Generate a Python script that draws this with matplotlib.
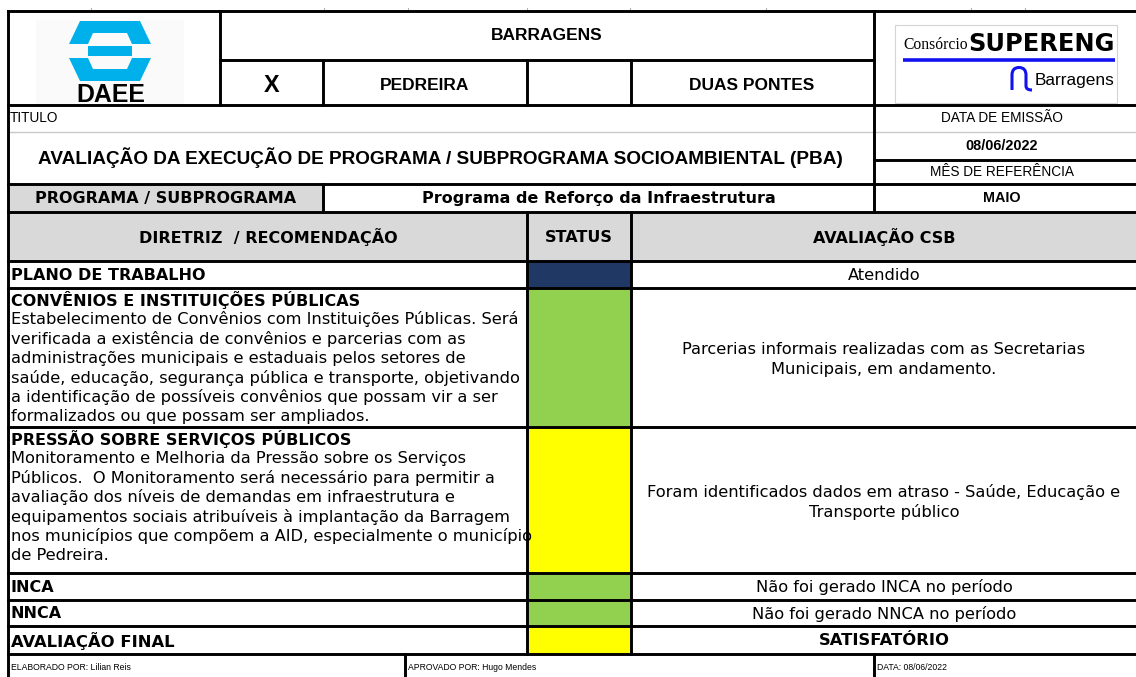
import matplotlib
matplotlib.use("Agg")
import matplotlib.pyplot as plt
from matplotlib.patches import Rectangle, Polygon, PathPatch
from matplotlib.path import Path

# ---------------- data ----------------
header_title = "BARRAGENS"
dam_options = ["X", "PEDREIRA", "", "DUAS PONTES"]
title_label = "TITULO"
doc_title = "AVALIAÇÃO DA EXECUÇÃO DE PROGRAMA / SUBPROGRAMA SOCIOAMBIENTAL (PBA)"
issue_label = "DATA DE EMISSÃO"
issue_date = "08/06/2022"
month_label = "MÊS DE REFERÊNCIA"
ref_month = "MAIO"
program_label = "PROGRAMA / SUBPROGRAMA"
program_name = "Programa de Reforço da Infraestrutura"
col_headers = ["DIRETRIZ  / RECOMENDAÇÃO", "STATUS", "AVALIAÇÃO CSB"]
row_titles = ["PLANO DE TRABALHO",
              "CONVÊNIOS E INSTITUIÇÕES PÚBLICAS",
              "PRESSÃO SOBRE SERVIÇOS PÚBLICOS",
              "INCA", "NNCA", "AVALIAÇÃO FINAL"]
row_descriptions = [
    [],
    ["Estabelecimento de Convênios com Instituições Públicas. Será",
     "verificada a existência de convênios e parcerias com as",
     "administrações municipais e estaduais pelos setores de",
     "saúde, educação, segurança pública e transporte, objetivando",
     "a identificação de possíveis convênios que possam vir a ser",
     "formalizados ou que possam ser ampliados."],
    ["Monitoramento e Melhoria da Pressão sobre os Serviços",
     "Públicos.  O Monitoramento será necessário para permitir a",
     "avaliação dos níveis de demandas em infraestrutura e",
     "equipamentos sociais atribuíveis à implantação da Barragem",
     "nos municípios que compõem a AID, especialmente o município",
     "de Pedreira."],
    [], [], []]
row_status_colors = ["#203864", "#92d050", "#ffff00", "#92d050", "#92d050", "#ffff00"]
row_evaluations = [["Atendido"],
                   ["Parcerias informais realizadas com as Secretarias",
                    "Municipais, em andamento."],
                   ["Foram identificados dados em atraso - Saúde, Educação e",
                    "Transporte público"],
                   ["Não foi gerado INCA no período"],
                   ["Não foi gerado NNCA no período"],
                   ["SATISFATÓRIO"]]
footer_texts = ["ELABORADO POR: Lilian Reis", "APROVADO POR: Hugo Mendes", "DATA: 08/06/2022"]

# ---------------- layout ----------------
W, H = 1136, 677
fig = plt.figure(figsize=(W / 100, H / 100), dpi=100)
ax = fig.add_axes([0, 0, 1, 1])
ax.set_xlim(0, W)
ax.set_ylim(H, 0)
ax.axis("off")
renderer = fig.canvas.get_renderer()

TAH = ["DejaVu Sans"]
ARI = ["Liberation Sans", "DejaVu Sans"]
L, R = 8, 1142
row_edges = [261, 288, 427, 573, 600, 626, 654]
GRAY = "#d9d9d9"


def fit_size(s, width, family, weight="normal"):
    t = ax.text(0, 0, s, fontsize=10, family=family, weight=weight)
    w = t.get_window_extent(renderer).width
    t.remove()
    return 10 * width / w


def put(x, y, s, size, family, weight="normal", ha="center", color="k", **kw):
    return ax.text(x, y, s, fontsize=size, family=family, weight=weight,
                   ha=ha, va="center", color=color, **kw)


def hline(y, x0, x1, color="k", lw=2.1):
    ax.plot([x0, x1], [y, y], color=color, lw=lw, solid_capstyle="projecting", zorder=5)


def vline(x, y0, y1, color="k", lw=2.1):
    ax.plot([x, x], [y0, y1], color=color, lw=lw, solid_capstyle="projecting", zorder=5)


# fills
ax.add_patch(Rectangle((L, 184), 323 - L, 28, color=GRAY, zorder=1))
ax.add_patch(Rectangle((L, 212), R - L, row_edges[0] - 212, color=GRAY, zorder=1))
for i, c in enumerate(row_status_colors):
    ax.add_patch(Rectangle((527, row_edges[i]), 104, row_edges[i + 1] - row_edges[i],
                           color=c, zorder=1))

# small spreadsheet tick marks on top
for x in [91, 324, 408, 527, 630, 766, 971, 1025]:
    ax.plot([x, x], [8, 10], color="#b0b0b0", lw=0.8)

# grid lines
hline(132, L, R, color="#c8c8c8", lw=1.0)
hline(11, L, R)
hline(60, 220, 874)
hline(105, L, R)
hline(160, 874, R)
hline(184, L, R)
hline(212, L, R)
for y in row_edges:
    hline(y, L, R)
vline(L, 11, 680)
vline(220, 11, 105)
vline(874, 11, 212)
for x in [323, 527, 631]:
    vline(x, 60, 105)
vline(323, 184, 212)
vline(527, 212, 654)
vline(631, 212, 654)
vline(405, 654, 680)
vline(874, 654, 680)

# ---------------- DAEE logo ----------------
BLUE = "#00b0ea"
BG = "#fafafa"
ax.add_patch(Rectangle((36, 20), 148, 84, color=BG, zorder=1, lw=0))
ax.add_patch(Polygon([(80, 21), (140, 21), (151, 44), (69, 44)], color=BLUE, zorder=2, lw=0))
ax.add_patch(Polygon([(93, 33), (127, 33), (132, 44), (88, 44)], color=BG, zorder=3, lw=0))
ax.add_patch(Rectangle((88, 46), 44, 10, color=BLUE, zorder=2, lw=0))
ax.add_patch(Polygon([(69, 58), (151, 58), (140, 81), (80, 81)], color=BLUE, zorder=2, lw=0))
ax.add_patch(Polygon([(88, 58), (132, 58), (127, 69), (93, 69)], color=BG, zorder=3, lw=0))
put(111, 95.5, "DAEE", fit_size("DAEE", 69, ARI, "bold"), ARI, "heavy")

# ---------------- SUPERENG logo ----------------
ax.add_patch(Rectangle((895, 25), 222, 78, fill=False, ec="#d4d4d4", lw=0.8, zorder=2))
SERIF = ["Liberation Serif", "DejaVu Serif"]
ax.text(903, 49, "Consórcio", fontsize=fit_size("Consórcio", 64, SERIF),
        family=SERIF, ha="left", va="baseline")
ax.text(1115, 51, "SUPERENG", fontsize=fit_size("SUPERENG", 146, TAH, "bold"),
        family=TAH, weight="heavy", ha="right", va="baseline")
ax.plot([903, 1115], [60, 60], color="#1212f0", lw=2.6, solid_capstyle="butt")
verts = [(1012, 90), (1012, 75), (1012, 67.5), (1019, 67.5), (1026, 67.5), (1026, 75),
         (1026, 86), (1026, 90), (1032, 90)]
codes = [Path.MOVETO, Path.LINETO, Path.CURVE3, Path.CURVE3, Path.CURVE3, Path.CURVE3,
         Path.LINETO, Path.CURVE3, Path.CURVE3]
ax.add_patch(PathPatch(Path(verts, codes), fill=False, ec="#1212f0", lw=2.2))
put(1074, 80, "Barragens", fit_size("Barragens", 80, ARI), ARI)

# ---------------- header texts ----------------
sz_hdr = fit_size("DUAS PONTES", 125, ARI, "bold")
put(547, 36, header_title, sz_hdr, ARI, "bold")
put(272, 85, dam_options[0], sz_hdr * 1.35, ARI, "bold")
put(425, 85, dam_options[1], sz_hdr, ARI, "bold")
put(579, 85, dam_options[2], sz_hdr, ARI, "bold")
put(752, 85, dam_options[3], sz_hdr, ARI, "bold")

sz_small = fit_size(issue_label, 122, ARI)
sz_date = fit_size(issue_date, 72, ARI, "bold")
put(10, 118, title_label, sz_small, ARI, ha="left")
put(440, 158, doc_title, fit_size(doc_title, 805, ARI, "bold"), ARI, "bold")
put(1002, 118, issue_label, sz_small, ARI)
put(1002, 146, issue_date, sz_date, ARI, "bold")
put(1002, 172, month_label, sz_small, ARI)
put(1002, 198, ref_month, sz_date, ARI, "bold")

sz_bold = fit_size(row_titles[1], 350, TAH, "bold")
sz_body = fit_size(row_descriptions[1][3], 510, TAH)
put(166, 198, program_label, sz_bold, TAH, "bold")
put(599, 198, program_name, sz_bold, TAH, "bold")
put(268, 237, col_headers[0], sz_bold, TAH, "bold")
put(579, 237, col_headers[1], sz_bold, TAH, "bold")
put(884, 237, col_headers[2], sz_bold, TAH, "bold")

# ---------------- rows ----------------
line_h = 19.4
sz_final = fit_size(row_titles[-1], 164, TAH, "bold")
for i, title in enumerate(row_titles):
    top, bot = row_edges[i], row_edges[i + 1]
    desc = row_descriptions[i]
    big = (i == len(row_titles) - 1)
    tsz = sz_final if big else sz_bold
    if desc:
        y0 = top + 12
        put(11, y0, title, tsz, TAH, "bold", ha="left")
        for k, line in enumerate(desc):
            put(11, y0 + (k + 1) * line_h, line, sz_body, TAH, ha="left")
    else:
        put(11, (top + bot) / 2 + 0.5, title, tsz, TAH, "bold", ha="left")
    ev = row_evaluations[i]
    mid = (top + bot) / 2
    n = len(ev)
    for k, line in enumerate(ev):
        if n > 1:
            y = mid + (k - 0.5) * 19.5 + 2
        else:
            y = mid + 0.5
        if big:
            put(884, y, line, sz_final, TAH, "bold")
        else:
            put(884, y, line, sz_body, TAH)

# ---------------- footer ----------------
sz_foot = fit_size(footer_texts[0], 120, ARI)
put(11, 667, footer_texts[0], sz_foot, ARI, ha="left")
put(408, 667, footer_texts[1], sz_foot, ARI, ha="left")
put(877, 667, footer_texts[2], sz_foot, ARI, ha="left")

fig.savefig("out.png", dpi=100)
